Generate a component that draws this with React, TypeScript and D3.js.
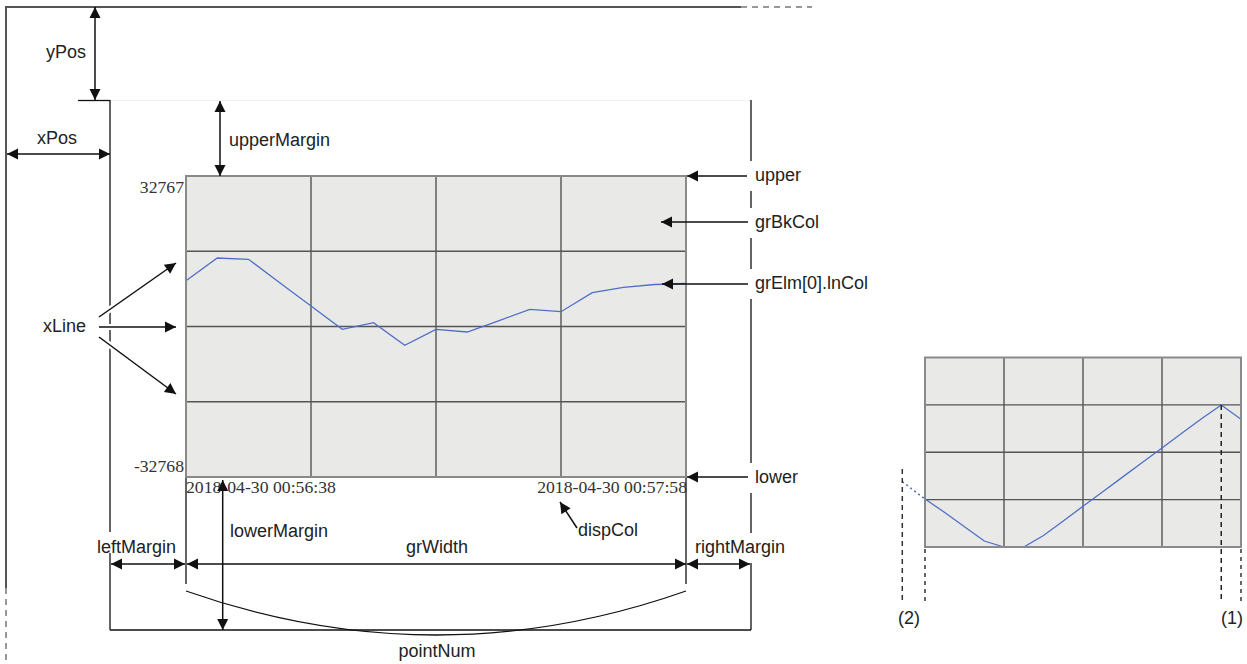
import React from 'react';
import * as d3 from 'd3';

// ---- data ----
const mainValues = [9970, 14913, 14630, 9535, 4462, -611, 826, -4094, -611, -1199, 1218, 3744, 3221, 7358, 8533, 9143, 9361];
const smallValues = [-16170, -20838, -25783, -30693, -32768, -32768, -28791, -23743, -18694, -13645, -8597, -3548, 1501, 6549, 11598, 16336, 11391];
const smallPrev = { index: -1.15, value: -10187 };
const yDomain: [number, number] = [-32768, 32767];
const yTickLabels = ['32767', '-32768'];
const timeLabels = ['2018-04-30 00:56:38', '2018-04-30 00:57:58'];
const gridDivisions = [0, 1, 2, 3, 4];
const markerLabels = ['(2)', '(1)'];

const SANS = '"Liberation Sans", Arial, sans-serif';
const SERIF = '"Liberation Serif", "Times New Roman", serif';
const LINE_BLUE = '#4f6fc6';
const BG = '#e9e9e7';

type Pt = [number, number];

function headPts(tip: Pt, from: Pt, L = 11, W = 5.5): string {
  const a = Math.atan2(tip[1] - from[1], tip[0] - from[0]);
  const dx = Math.cos(a), dy = Math.sin(a);
  const bx = tip[0] - L * dx, by = tip[1] - L * dy;
  return `${tip[0]},${tip[1]} ${bx - W * dy},${by + W * dx} ${bx + W * dy},${by - W * dx}`;
}

function Arrow({ a, b, start = false, end = true, halo = false }: { a: Pt; b: Pt; start?: boolean; end?: boolean; halo?: boolean }) {
  return (
    <g>
      {halo && <line x1={a[0]} y1={a[1]} x2={b[0]} y2={b[1]} stroke="#fff" strokeWidth={6} />}
      <line x1={a[0]} y1={a[1]} x2={b[0]} y2={b[1]} stroke="#111" strokeWidth={1.5} />
      {end && <polygon points={headPts(b, a)} fill="#111" />}
      {start && <polygon points={headPts(a, b)} fill="#111" />}
    </g>
  );
}

function Label({ x, y, text, bg = false, w = 0 }: { x: number; y: number; text: string; bg?: boolean; w?: number }) {
  return (
    <g>
      {bg && <rect x={x - 8} y={y - 20} width={w + 12} height={30} fill="#fff" />}
      <text x={x} y={y} fontFamily={SANS} fontSize={18} fill="#222">{text}</text>
    </g>
  );
}

function Chart({ x0, x1, y0, y1, values, clipId }: { x0: number; x1: number; y0: number; y1: number; values: number[]; clipId: string }) {
  const x = d3.scaleLinear().domain([0, values.length - 1]).range([x0, x1]);
  const y = d3.scaleLinear().domain(yDomain).range([y1, y0]);
  const gx = d3.scaleLinear().domain([0, 4]).range([x0, x1]);
  const gy = d3.scaleLinear().domain([0, 4]).range([y0, y1]);
  const line = d3.line<number>().x((_, i) => x(i)).y((d) => y(d));
  return (
    <g>
      <defs>
        <clipPath id={clipId}>
          <rect x={x0} y={y0} width={x1 - x0} height={y1 - y0} />
        </clipPath>
      </defs>
      <rect x={x0} y={y0} width={x1 - x0} height={y1 - y0} fill={BG} />
      {gridDivisions.slice(1, -1).map((i) => (
        <line key={'v' + i} x1={gx(i)} x2={gx(i)} y1={y0} y2={y1} stroke="#555" strokeWidth={1.4} />
      ))}
      {gridDivisions.slice(1, -1).map((i) => (
        <line key={'h' + i} x1={x0} x2={x1} y1={gy(i)} y2={gy(i)} stroke="#555" strokeWidth={1.4} />
      ))}
      <path d={line(values) || ''} fill="none" stroke={LINE_BLUE} strokeWidth={1.3} clipPath={`url(#${clipId})`} />
      <rect x={x0} y={y0} width={x1 - x0} height={y1 - y0} fill="none" stroke="#8a8a8a" strokeWidth={2} />
    </g>
  );
}

export default function App() {
  // main chart box
  const M = { x0: 186, x1: 686, y0: 176, y1: 477 };
  // small chart box
  const S = { x0: 925, x1: 1241, y0: 357.5, y1: 547 };
  const sx = d3.scaleLinear().domain([0, smallValues.length - 1]).range([S.x0, S.x1]);
  const sy = d3.scaleLinear().domain(yDomain).range([S.y1, S.y0]);
  const prevX = sx(smallPrev.index);
  const prevY = sy(smallPrev.value);
  const peakIdx = smallValues.indexOf(d3.max(smallValues) as number);
  const peakX = sx(peakIdx);

  return (
    <svg width={1247} height={664} style={{ position: 'absolute', left: 0, top: 0, background: '#fff' }}>
      {/* outer frame */}
      <line x1={6} y1={7} x2={741} y2={7} stroke="#555" strokeWidth={2} />
      <line x1={741} y1={7} x2={812} y2={7} stroke="#777" strokeWidth={1.5} strokeDasharray="6,5" />
      <line x1={6} y1={6} x2={6} y2={588} stroke="#555" strokeWidth={2} />
      <line x1={6} y1={588} x2={6} y2={664} stroke="#777" strokeWidth={1.5} strokeDasharray="6,5" />

      {/* inner frame */}
      <line x1={110} y1={100.5} x2={751} y2={100.5} stroke="#f1f1f1" strokeWidth={1} />
      <line x1={78} y1={100.5} x2={110} y2={100.5} stroke="#111" strokeWidth={1.3} />
      <line x1={110} y1={100} x2={110} y2={630} stroke="#111" strokeWidth={1.3} />
      <line x1={751} y1={100} x2={751} y2={630} stroke="#111" strokeWidth={1.3} />
      <line x1={110} y1={630} x2={751} y2={630} stroke="#111" strokeWidth={1.3} />
      <line x1={M.x0} y1={M.y1} x2={M.x0} y2={584} stroke="#111" strokeWidth={1.3} />
      <line x1={M.x1} y1={M.y1} x2={M.x1} y2={584} stroke="#111" strokeWidth={1.3} />

      {/* main chart */}
      <Chart {...M} values={mainValues} clipId="clipMain" />
      <text x={184} y={192.7} textAnchor="end" fontFamily={SERIF} fontSize={17.7} fill="#333">{yTickLabels[0]}</text>
      <text x={184} y={472} textAnchor="end" fontFamily={SERIF} fontSize={17.7} fill="#333">{yTickLabels[1]}</text>
      <text x={M.x0} y={493.3} fontFamily={SERIF} fontSize={17.7} fill="#333">{timeLabels[0]}</text>
      <text x={M.x1 + 1} y={493.3} textAnchor="end" fontFamily={SERIF} fontSize={17.7} fill="#333">{timeLabels[1]}</text>

      {/* pointNum curve */}
      <path d={`M${M.x0},591 Q${(M.x0 + M.x1) / 2},679 ${M.x1},591`} fill="none" stroke="#111" strokeWidth={1.3} />

      {/* labels with white backgrounds */}
      <Label x={755} y={181} text="upper" bg w={48} />
      <Label x={755} y={228} text="grBkCol" bg w={70} />
      <Label x={755} y={289} text="grElm[0].lnCol" bg w={128} />
      <Label x={755} y={483} text="lower" bg w={48} />
      <Label x={695} y={553} text="rightMargin" bg w={94} />
      <rect x={95} y={532} width={85} height={21} fill="#fff" />
      <Label x={97} y={553} text="leftMargin" />
      <Label x={46} y={57.5} text="yPos" />
      <Label x={37} y={144} text="xPos" />
      <Label x={229} y={146} text="upperMargin" />
      <Label x={43} y={332} text="xLine" />
      <Label x={230} y={537} text="lowerMargin" />
      <Label x={578} y={536} text="dispCol" />
      <text x={437} y={553} textAnchor="middle" fontFamily={SANS} fontSize={18} fill="#222">grWidth</text>
      <text x={437} y={657} textAnchor="middle" fontFamily={SANS} fontSize={18} fill="#222">pointNum</text>

      {/* arrows */}
      <Arrow a={[95, 7]} b={[95, 100]} start end />
      <Arrow a={[7, 154]} b={[110, 154]} start end />
      <Arrow a={[220, 101]} b={[220, M.y0]} start end />
      <Arrow a={[222.7, 480]} b={[222.7, 630]} start end />
      <Arrow a={[747, M.y0]} b={[M.x1 + 1, M.y0]} />
      <Arrow a={[748, 222]} b={[661, 222]} />
      <Arrow a={[748, 284]} b={[662, 284]} />
      <Arrow a={[748, M.y1]} b={[M.x1 + 1, M.y1]} />
      <Arrow a={[99, 317]} b={[176, 263]} halo />
      <Arrow a={[99, 327]} b={[176, 327]} halo />
      <Arrow a={[99, 337]} b={[176, 394]} halo />
      <Arrow a={[111, 564]} b={[185, 564]} start end />
      <Arrow a={[187, 564]} b={[M.x1, 564]} start end />
      <Arrow a={[M.x1 + 1, 564]} b={[750, 564]} start end />
      <Arrow a={[577, 528]} b={[560, 502]} />

      {/* small chart */}
      <Chart {...S} values={smallValues} clipId="clipSmall" />
      <line x1={prevX} y1={prevY} x2={sx(0)} y2={sy(smallValues[0])} stroke={LINE_BLUE} strokeWidth={1.6} strokeDasharray="2,3" />
      <line x1={prevX} y1={469} x2={prevX} y2={603} stroke="#333" strokeWidth={1.5} strokeDasharray="5,4" />
      <line x1={S.x0} y1={549} x2={S.x0} y2={603} stroke="#333" strokeWidth={1.5} strokeDasharray="4,4" />
      <line x1={peakX} y1={sy(smallValues[peakIdx])} x2={peakX} y2={603} stroke="#222" strokeWidth={1.5} strokeDasharray="5,4" />
      <line x1={S.x1} y1={549} x2={S.x1} y2={603} stroke="#333" strokeWidth={1.5} strokeDasharray="4,4" />
      <text x={898} y={624} fontFamily={SANS} fontSize={18} fill="#222">{markerLabels[0]}</text>
      <text x={1221} y={624} fontFamily={SANS} fontSize={18} fill="#222">{markerLabels[1]}</text>
    </svg>
  );
}
